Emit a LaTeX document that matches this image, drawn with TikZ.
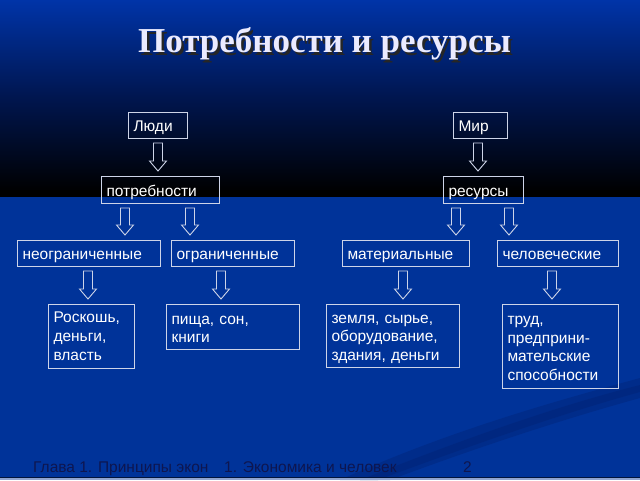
\documentclass[tikz,border=0pt]{standalone}
\usepackage{fontspec}
\setmainfont{Liberation Sans}
\newfontfamily\titlefont{Liberation Serif}
\usetikzlibrary{calc}
\definecolor{bgblue}{RGB}{0,51,153}
\definecolor{topblue}{RGB}{0,52,168}
\definecolor{midblue}{RGB}{0,22,80}
\definecolor{boxline}{RGB}{205,212,232}
\definecolor{footcol}{RGB}{14,22,80}
\definecolor{streak}{RGB}{0,36,120}
\tikzset{
  box/.style 2 args={draw=boxline, line width=0.9pt, text=white, anchor=north west,
    align=left, inner xsep=5.5pt, inner ysep=0pt, outer sep=0pt,
    text width=#1, minimum height=#2, font=\fontsize{15.5}{18.7}\selectfont},
  oneline/.style={text height=15.5pt, text depth=2.5pt},
  lines/.style 2 args={text height=#1, text depth=#2},
  harrowline/.style={draw=boxline, line width=0.9pt, line join=miter},
  foot/.style={text=footcol, anchor=base west, inner sep=0pt, font=\fontsize{15.5}{17}\selectfont},
  ttl/.style={anchor=base, inner sep=0pt, font=\titlefont\bfseries\fontsize{35}{40}\selectfont}
}
\newcommand\hollowarrow[3]{%
  \draw[harrowline] let \p1=(#2.south), \p2=(#3.north) in
    (#1pt-4.5pt,\y1-5pt) -- (#1pt+4.5pt,\y1-5pt) -- (#1pt+4.5pt,\y2+15pt)
    -- (#1pt+8.5pt,\y2+15pt) -- (#1pt,\y2+5pt) -- (#1pt-8.5pt,\y2+15pt)
    -- (#1pt-4.5pt,\y2+15pt) -- cycle;}
\begin{document}
\begin{tikzpicture}[x=1pt,y=-1pt]
\useasboundingbox (0,0) rectangle (640,480);
% background
\shade[top color=topblue, bottom color=black, middle color=midblue] (0,0) rectangle (640,192);
\fill[black] (0,190) rectangle (640,197);
\fill[bgblue] (0,197) rectangle (640,480);
\fill[streak, opacity=0.45] (340,480) .. controls (450,430) and (560,400) .. (640,378)
  -- (640,398) .. controls (560,420) and (470,450) .. (390,480) -- cycle;
\fill[streak, opacity=0.5] (360,480) .. controls (460,440) and (560,405) .. (640,385)
  -- (640,392) .. controls (560,414) and (470,446) .. (378,480) -- cycle;
\fill[black!60!bgblue] (0,476.5) rectangle (640,478);
\fill[boxline!70!bgblue] (0,478) rectangle (640,480);
% title
\node[ttl, text=black!85] (titleshadow) at (327,55) {Потребности и ресурсы};
\node[ttl, text=white!92!blue] (title) at (324.5,52) {Потребности и ресурсы};
% boxes
\node[box={48pt}{26pt}, oneline] (ludi) at (128,112) {Люди};
\node[box={43pt}{26pt}, oneline] (mir) at (453,112) {Мир};
\node[box={107pt}{27pt}, oneline] (potr) at (101,176) {потребности};
\node[box={69pt}{27pt}, oneline] (res) at (443,176) {ресурсы};
\node[box={132pt}{26pt}, oneline] (neogr) at (17,240) {неограниченные};
\node[box={112pt}{26pt}, oneline] (ogr) at (171,240) {ограниченные};
\node[box={116pt}{26pt}, oneline] (mat) at (342,240) {материальные};
\node[box={110pt}{26pt}, oneline] (chel) at (497,240) {человеческие};
\node[box={75pt}{64pt}, lines={18.7pt}{45.3pt}] (rosk) at (48,304) {Роскошь,\\деньги,\\власть};
\node[box={122pt}{45pt}, lines={20.5pt}{24.5pt}, font=\fontsize{15.5}{17.5}\selectfont] (pisha) at (166,304) {пища, сон,\\книги};
\node[box={122pt}{63pt}, lines={19.2pt}{43.8pt}] (zem) at (326,304) {земля, сырье,\\оборудование,\\здания, деньги};
\node[box={105pt}{84pt}, lines={20.5pt}{63.5pt}] (trud) at (502,304) {труд,\\предприни-\\мательские\\способности};
% arrows
\hollowarrow{158}{ludi}{potr}
\hollowarrow{478}{mir}{res}
\hollowarrow{125}{potr}{neogr}
\hollowarrow{190}{potr}{ogr}
\hollowarrow{456}{res}{mat}
\hollowarrow{509}{res}{chel}
\hollowarrow{88}{neogr}{rosk}
\hollowarrow{221}{ogr}{pisha}
\hollowarrow{403}{mat}{zem}
\hollowarrow{552}{chel}{trud}
% footer
\node[foot] (f1) at (33,472) {Глава 1. Принципы экон};
\node[foot] (f2) at (224,472) {1. Экономика и человек};
\node[foot] (f3) at (463,472) {2};
\end{tikzpicture}
\end{document}
